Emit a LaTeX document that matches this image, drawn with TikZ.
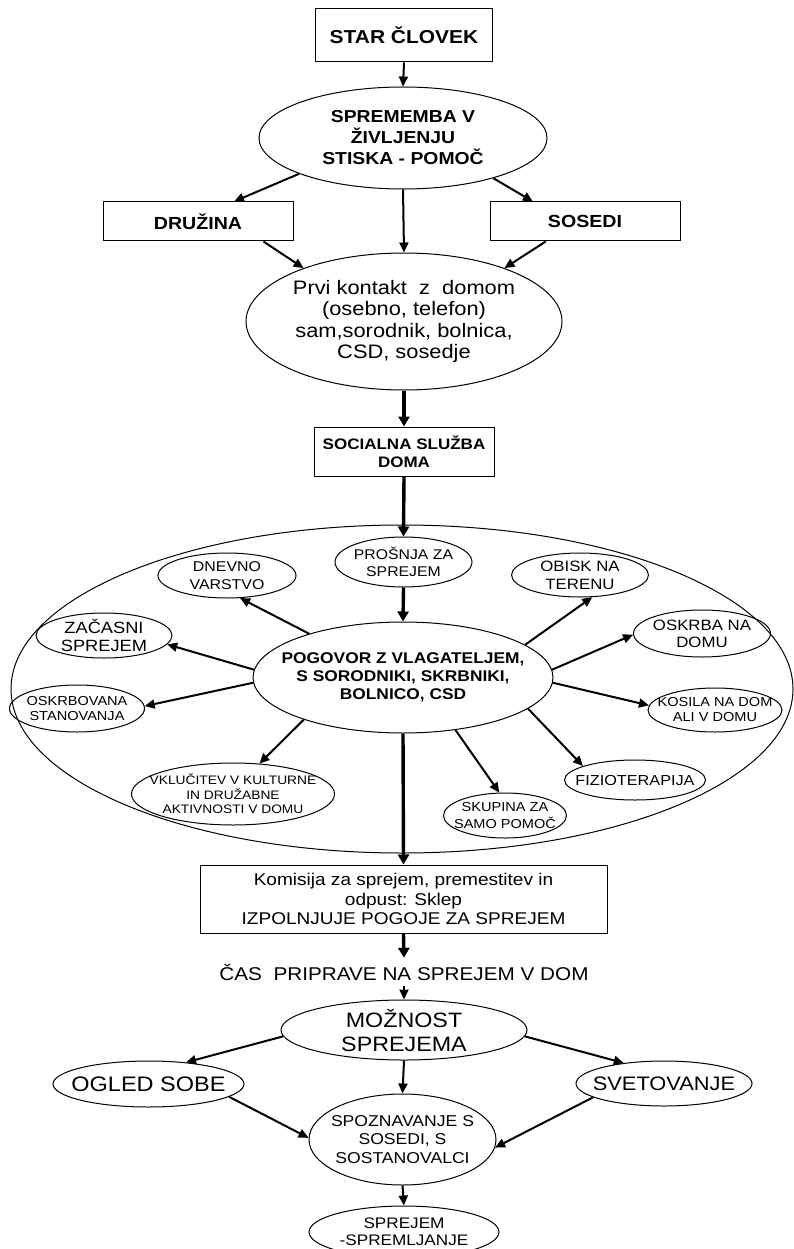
\documentclass[tikz,border=0pt]{standalone}
\usepackage{fontspec}
\setmainfont[FakeStretch=1.12]{Liberation Sans}
\usetikzlibrary{arrows.meta,shapes.geometric}
\newcommand\fs[2]{\fontsize{#1}{#2}\selectfont}
\tikzset{
  x=1pt,y=-1pt,
  ell/.style={draw,ellipse,line width=1pt,inner sep=0pt},
  box/.style={draw,rectangle,line width=1pt,inner sep=0pt,align=center},
  txt/.style={inner sep=0pt,align=center},
  arr/.style={line width=2pt,-{Triangle[length=10pt,width=9pt]}},
  thk/.style={line width=3.4pt,-{Triangle[length=10pt,width=11pt]}},
}
\newcommand\ellnode[6]{%
  \node[ell,minimum width=#3,minimum height=#4] (#1) at (#2) {};
  \node[txt,font=#5] (#1-t) at (#1) {#6};}
\begin{document}
\begin{tikzpicture}
\path[use as bounding box,fill=white] (0,0) rectangle (794,1249);
\clip (0,0) rectangle (794,1249);

% top part
\node[box,minimum width=177,minimum height=53,font=\fs{18.7}{21}\bfseries] (star) at (404,35.5) {STAR ČLOVEK};
\ellnode{spr}{403,138}{288}{102}{\fs{17.3}{21}\bfseries}{SPREMEMBA V\\ŽIVLJENJU\\STISKA - POMOČ}
\node[box,minimum width=190,minimum height=39,font=\fs{17.5}{21}\bfseries] (dru) at (198,221.5) {DRUŽINA};
\node[box,minimum width=190,minimum height=39,font=\fs{17.5}{21}\bfseries] (sos) at (585,221.5) {SOSEDI};
\ellnode{prvi}{404,321.5}{316}{137}{\fs{19.5}{21.5}}{Prvi kontakt\ \ z\ \ domom\\(osebno, telefon)\\sam,sorodnik, bolnica,\\CSD, sosedje}
\node[box,minimum width=180,minimum height=49,font=\fs{15.2}{18}\bfseries] (soc) at (404,451.5) {SOCIALNA SLUŽBA\\DOMA};

% big ellipse
\node[ell,minimum width=782,minimum height=328] (big) at (402,689) {};
\ellnode{pro}{403.5,562}{137}{50}{\fs{14.1}{17}}{PROŠNJA ZA\\SPREJEM}
\ellnode{pog}{403,677.5}{300}{111}{\fs{15.5}{18}\bfseries}{POGOVOR Z VLAGATELJEM,\\S SORODNIKI, SKRBNIKI,\\BOLNICO, CSD}
\ellnode{dne}{227,575.5}{138}{45}{\fs{14.2}{18}}{DNEVNO\\VARSTVO}
\ellnode{obi}{580,575}{137}{44}{\fs{15}{18}}{OBISK NA\\TERENU}
\ellnode{zac}{104,635.5}{136}{45}{\fs{16.3}{18}}{ZAČASNI\\SPREJEM}
\ellnode{osk}{702,633.5}{137}{47}{\fs{15}{17}}{OSKRBA NA\\DOMU}
\ellnode{osb}{77,708.5}{135}{47}{\fs{13}{15}}{OSKRBOVANA\\STANOVANJA}
\ellnode{kos}{715,710}{134}{44}{\fs{13}{15}}{KOSILA NA DOM\\ALI V DOMU}
\ellnode{vkl}{233,794}{203}{62}{\fs{12.3}{14.5}}{VKLUČITEV V KULTURNE\\IN DRUŽABNE\\AKTIVNOSTI V DOMU}
\ellnode{fiz}{635,780}{141}{40}{\fs{14.5}{17}}{FIZIOTERAPIJA}
\ellnode{sku}{505,815.5}{123}{45}{\fs{13}{17}}{SKUPINA ZA\\SAMO POMOČ}

% lower part
\node[box,minimum width=407,minimum height=68,font=\fs{17}{19.5}] (kom) at (403.5,899) {Komisija za sprejem, premestitev in\\odpust: Sklep\\IZPOLNJUJE POGOJE ZA SPREJEM};
\node[txt,minimum height=28,font=\fs{18.5}{21}] (cas) at (404,972) {ČAS\ \ PRIPRAVE NA SPREJEM V DOM};
\ellnode{moz}{404,1030}{246}{60}{\fs{20.8}{24}}{MOŽNOST\\SPREJEMA}
\ellnode{ogl}{148.5,1084}{191}{46}{\fs{21}{24}}{OGLED SOBE}
\ellnode{sve}{664,1083.5}{176}{45}{\fs{19.5}{24}}{SVETOVANJE}
\ellnode{spoz}{402.5,1139.5}{187}{91}{\fs{15.7}{18.5}}{SPOZNAVANJE S\\SOSEDI, S\\SOSTANOVALCI}
\ellnode{sprj}{404,1232}{190}{52}{\fs{15.3}{17}}{SPREJEM\\-SPREMLJANJE}

% connectors top
\draw[arr] (star.south) -- (spr.north);
\draw[arr] (spr.199) -- (dru.29);
\draw[arr] (spr.336) -- (sos.159);
\draw[arr] (spr.south) -- (prvi.north);
\draw[arr] (dru.343) -- (prvi.152);
\draw[arr] (sos.207.8) -- (prvi.28);
\draw[thk] (prvi.south) -- (soc.north);
\draw[thk] (soc.south) -- (pro.north);
\draw[thk] (pro.south) -- (pog.north);

% connectors radial
\draw[arr] (pog.155) -- (dne.300);
\draw[arr] (pog.177) -- (zac.352);
\draw[arr] (pog.182) -- (osb.2);
\draw[arr] (pog.203.6) -- (vkl.49);
\draw[arr] (pog.315) -- (sku.104);
\draw[arr] (pog.346) -- (fiz.165);
\draw[arr] (pog.358) -- (kos.176);
\draw[arr] (pog.3) -- (osk.181);
\draw[arr] (pog.15) -- (obi.299);

% connectors lower
\draw[thk] (pog.south) -- (kom.north);
\draw[thk] (kom.south) -- (cas.north);
\draw[arr] (cas.south) -- (moz.north);
\draw[arr] (moz.183) -- (ogl.30);
\draw[arr] (moz.357) -- (sve.153);
\draw[arr] (moz.south) -- (spoz.north);
\draw[arr] (ogl.351) -- (spoz.179);
\draw[arr] (sve.191) -- (spoz.-5);
\draw[arr] (spoz.south) -- (sprj.north);
\end{tikzpicture}
\end{document}
